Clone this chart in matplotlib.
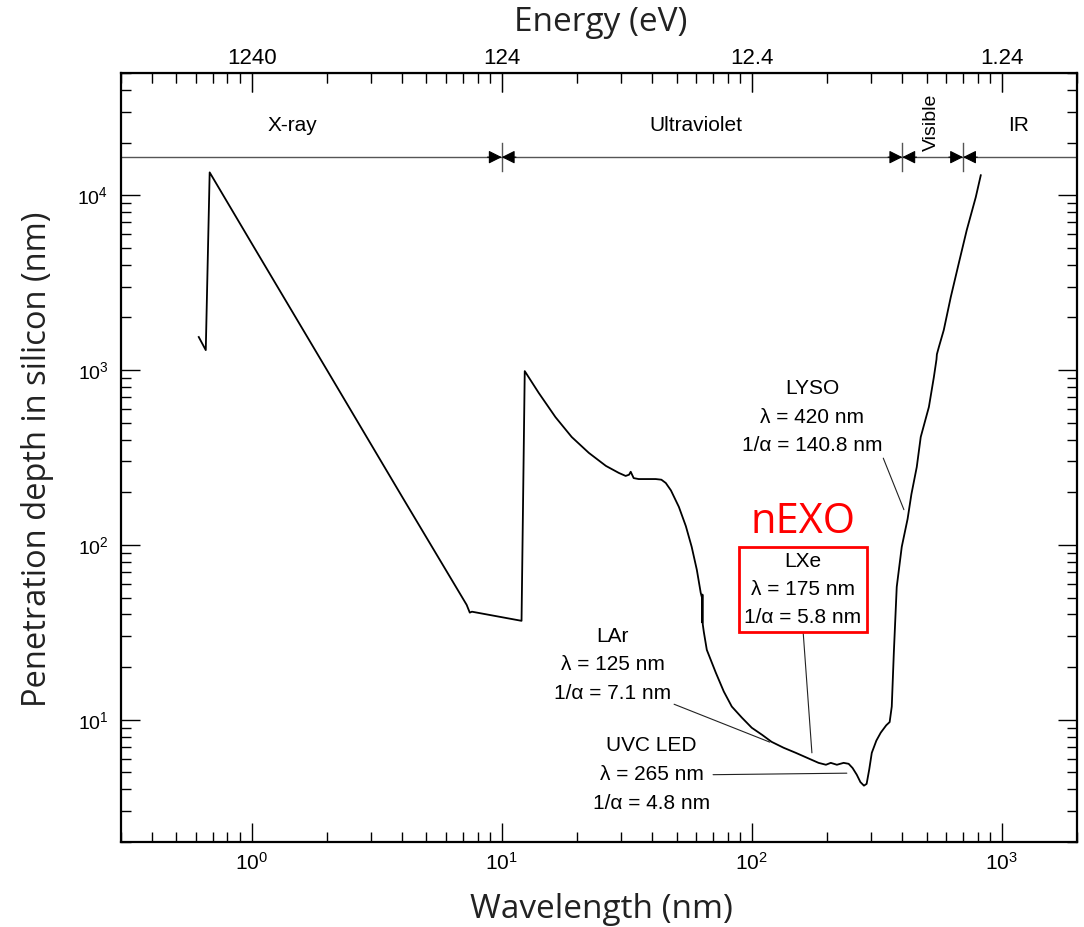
import numpy as np
import matplotlib.pyplot as plt
from matplotlib.ticker import LogLocator, NullFormatter

plt.rcParams['font.family'] = ['Liberation Sans', 'DejaVu Sans']
plt.rcParams['mathtext.fontset'] = 'custom'
plt.rcParams['mathtext.rm'] = 'Liberation Sans'

# penetration depth of light in silicon
wavelength_nm = [0.614, 0.655, 0.679, 1.0, 2.0, 4.0, 7.24, 7.45, 7.6, 12.0,
                 12.36, 14.06, 16.4, 19.05, 22.3, 26.1, 29.4, 31.3, 32.3, 32.8,
                 33.7, 35.3, 41.3, 43.5, 45.3, 47.5, 51.1, 54.5, 57.5, 60.3,
                 62.5, 63.2, 63.3, 63.5, 63.7, 64.3, 66.1, 71.8, 77.3, 83.2,
                 91.2, 100, 110, 120, 134, 150, 166, 185, 198, 207,
                 219, 233, 244, 253, 263, 272, 281, 288, 295, 302,
                 315, 328, 345, 356, 363, 370, 380, 398, 420, 435,
                 457, 474, 511, 535, 548, 550, 560, 586, 625, 673,
                 724, 787, 824]
depth_nm = [1545, 1300, 13500, 5300, 1000, 188, 45.4, 41.0, 41.5, 36.8,
            986, 740, 538, 414, 336, 283, 258, 248, 252, 262,
            241, 238, 238, 236, 226, 205, 165, 128, 97.5, 72,
            53.2, 50, 36, 52, 35, 31.8, 25.1, 18.6, 14.5, 11.9,
            10.3, 9.0, 8.2, 7.48, 6.92, 6.47, 6.07, 5.67, 5.53, 5.67,
            5.53, 5.67, 5.6, 5.3, 4.85, 4.4, 4.2, 4.3, 5.2, 6.47,
            7.6, 8.44, 9.3, 9.7, 11.9, 24.2, 57.5, 97.5, 140.8, 195,
            279, 414, 615, 912, 1150, 1230, 1352, 1693, 2612, 4083,
            6310, 9750, 13000]

# spectral bands along the top
band_edges = [10, 400, 700]
band_names = ['X-ray', 'Ultraviolet', 'Visible', 'IR']
band_label_x = [1.45, 60, 525, 1170]
band_y = 1.65e4

# energy axis on top
energy_ticks_nm = [1, 10, 100, 1000]
energy_labels = ['1240', '124', '12.4', '1.24']

fig = plt.figure(figsize=(10.84, 9.27), dpi=100)
ax = fig.add_axes([0.1116, 0.0917, 0.882, 0.8296])

ax.plot(wavelength_nm, depth_nm, color='black', lw=1.3)
ax.set_xscale('log')
ax.set_yscale('log')
ax.set_xlim(0.3, 2000)
ax.set_ylim(2, 5e4)

for s in ax.spines.values():
    s.set_linewidth(1.6)
ax.tick_params(which='both', direction='in', top=True, right=True, width=1.0)
ax.tick_params(axis='x', labelsize=15, pad=7)
ax.tick_params(axis='y', labelsize=14, pad=9)
ax.tick_params(which='major', length=14)
ax.tick_params(which='minor', length=7)
ax.xaxis.set_minor_locator(LogLocator(base=10, subs=np.arange(2, 10), numticks=20))
ax.yaxis.set_minor_locator(LogLocator(base=10, subs=np.arange(2, 10), numticks=20))
ax.xaxis.set_minor_formatter(NullFormatter())
ax.yaxis.set_minor_formatter(NullFormatter())
ax.set_yticks([10, 100, 1000, 10000])

top = ax.secondary_xaxis('top')
top.set_xticks(energy_ticks_nm)
top.set_xticklabels(energy_labels)
top.xaxis.set_minor_locator(LogLocator(base=10, subs=np.arange(2, 10), numticks=20))
top.xaxis.set_minor_formatter(NullFormatter())
top.tick_params(which='both', direction='in', labelsize=16, pad=3)
top.tick_params(which='major', length=14)
top.tick_params(which='minor', length=7)

# band bar with arrows
ax.axhline(band_y, color='#555555', lw=1.0)
for b in band_edges:
    ax.plot([b, b], [1.37e4, 1.98e4], color='#555555', lw=1.0)
    for f in (1 / 1.14, 1.14):
        ax.annotate('', xy=(b, band_y), xytext=(b * f, band_y),
                    arrowprops=dict(arrowstyle='-|>,head_length=0.5,head_width=0.25',
                                    color='black', lw=0.8, mutation_scale=16,
                                    shrinkA=0, shrinkB=0))
for name, x in zip(band_names, band_label_x):
    if name == 'Visible':
        ax.text(x, 2.6e4, name, rotation=90, ha='center', va='center', fontsize=14)
    else:
        ax.text(x, 2.5e4, name, ha='center', va='center', fontsize=15)

lead = dict(arrowstyle='-', color='#222222', lw=0.8, shrinkA=0, shrinkB=0)
ax.annotate('LYSO\n\u03bb = 420 nm\n1/\u03b1 = 140.8 nm', xy=(406, 159),
            xytext=(174, 538), ha='center', va='center', fontsize=15,
            linespacing=1.65, arrowprops=dict(lead, relpos=(1.0, 0.0)))
ax.annotate('LAr\n\u03bb = 125 nm\n1/\u03b1 = 7.1 nm', xy=(118, 7.45),
            xytext=(27.8, 20.6), ha='center', va='center', fontsize=15,
            linespacing=1.65, arrowprops=dict(lead, relpos=(1.0, 0.0)))
ax.annotate('UVC LED\n\u03bb = 265 nm\n1/\u03b1 = 4.8 nm', xy=(240, 4.95),
            xytext=(39.8, 4.85), ha='center', va='center', fontsize=15,
            linespacing=1.65, arrowprops=dict(lead, relpos=(1.0, 0.5)))
ax.annotate('LXe\n\u03bb = 175 nm\n1/\u03b1 = 5.8 nm', xy=(174, 6.47),
            xytext=(160, 55.4), ha='center', va='center', fontsize=15,
            linespacing=1.6,
            bbox=dict(boxstyle='square,pad=0.25', fc='white', ec='red', lw=2),
            arrowprops=dict(lead, relpos=(0.5, 0.0)))
ax.text(160, 135, 'nEXO', color='red', fontsize=30, ha='center', va='center',
        family='Open Sans')

fig.text(0.554, 0.976, 'Energy (eV)', ha='center', va='center', fontsize=24,
         family='Open Sans', color='#222222')
fig.text(0.555, 0.019, 'Wavelength (nm)', ha='center', va='center', fontsize=24,
         family='Open Sans', color='#222222')
fig.text(0.035, 0.505, 'Penetration depth in silicon (nm)', ha='center',
         va='center', rotation=90, fontsize=23.5, family='Open Sans', color='#222222')

fig.savefig('out.png', dpi=100)
